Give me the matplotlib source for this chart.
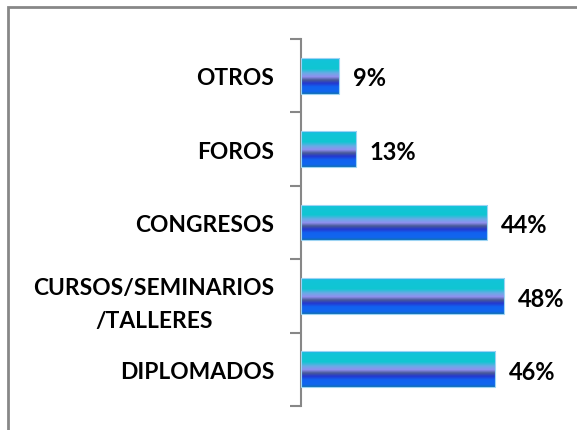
import numpy as np
import matplotlib
matplotlib.use("Agg")
from matplotlib import pyplot as plt
from matplotlib.colors import LinearSegmentedColormap
from matplotlib.patches import Rectangle

# data, bottom to top as in the picture
categories = ['DIPLOMADOS', 'CURSOS/SEMINARIOS\n/TALLERES', 'CONGRESOS', 'FOROS', 'OTROS']
values = [46, 48, 44, 13, 9]
value_labels = ['46%', '48%', '44%', '13%', '9%']

FONT = 'Lato'
GREY = '#878787'

# excel-style gradient fill, bottom -> top
grad = LinearSegmentedColormap.from_list('bar', [
    (0.00, '#0f6fb0'),
    (0.07, '#1166ee'),
    (0.20, '#1262f0'),
    (0.30, '#2438d0'),
    (0.39, '#4a5a98'),
    (0.48, '#9090f0'),
    (0.58, '#6aaae6'),
    (0.70, '#10c6d2'),
    (0.94, '#12c4d8'),
    (1.00, '#2aa4ee'),
])

fig = plt.figure(figsize=(5.77, 4.31), dpi=100)
ax = fig.add_axes([0.521, 0.0557, 0.44, 0.8515])

y = np.arange(len(categories))
bars = ax.barh(y, values, height=0.49, color='none', edgecolor='#9cd4f4', linewidth=0.8, zorder=3)

g = np.linspace(0, 1, 256).reshape(-1, 1)
for b in bars:
    x0, y0 = b.get_x(), b.get_y()
    im = ax.imshow(g, cmap=grad, aspect='auto', origin='lower', zorder=2,
                   extent=[x0, x0 + b.get_width(), y0, y0 + b.get_height()])
    im.set_clip_path(b)

for yi, v, lab in zip(y, values, value_labels):
    ax.text(v + 3.3, yi - 0.03, lab, va='center', ha='left', fontsize=17,
            fontweight='bold', family=FONT, color='black')

ax.set_xlim(0, 60)
ax.set_ylim(-0.5, len(categories) - 0.5)

for s in ['top', 'right', 'bottom']:
    ax.spines[s].set_visible(False)
ax.spines['left'].set_color(GREY)
ax.spines['left'].set_linewidth(1.5)
ax.set_xticks([])

ax.set_yticks(y)
ax.set_yticklabels(categories, fontsize=16.4, fontweight='bold', family=FONT)
ax.set_yticks(np.arange(-0.5, len(categories)), minor=True)
ax.tick_params(axis='y', which='major', length=0, pad=19)
ax.tick_params(axis='y', which='minor', length=8, width=1.5, color=GREY, direction='out')
for t in ax.get_yticklabels():
    t.set_multialignment('center')
    t.set_linespacing(1.7)

# outer chart frame (cut off at right and bottom)
fig.patches.append(Rectangle((8 / 577, -0.1), 1.2, (431 - 8) / 431 + 0.1,
                             transform=fig.transFigure, fill=False,
                             edgecolor=GREY, linewidth=2))

fig.savefig('out.png', dpi=100)
